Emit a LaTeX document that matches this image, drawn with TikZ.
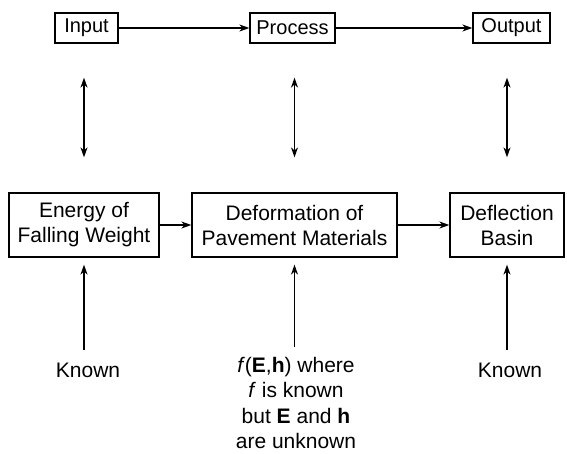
\documentclass[tikz,border=0pt]{standalone}
\usepackage{fontspec}
\setmainfont{Liberation Sans}
\usetikzlibrary{arrows.meta}

\begin{document}
\begin{tikzpicture}[x=1pt, y=-1pt, line width=1.3pt,
  toplabel/.style={draw, font=\fontsize{20}{24}\selectfont, minimum height=30pt, inner xsep=6pt, inner ysep=0pt},
  stagebox/.style={draw, align=center, font=\fontsize{21}{25}\selectfont, minimum height=64pt, inner xsep=2pt},
  note/.style={align=center, font=\fontsize{21}{25.5}\selectfont},
  arr/.style={-{Stealth[length=10pt,width=7pt]}},
  dblarr/.style={{Stealth[length=10pt,width=7pt]}-{Stealth[length=10pt,width=7pt]}}]
  \useasboundingbox (0,0) rectangle (567,453);
  % Top row
  \node[toplabel, minimum width=63pt] (input) at (86.5,28) {Input};
  \node[toplabel, minimum width=85pt] (process) at (292.5,28) {Process};
  \node[toplabel, minimum width=77pt] (output) at (511.5,28) {Output};
  \draw[arr] (input) -- (process);
  \draw[arr] (process) -- (output);
  % Stage boxes
  \node[stagebox, minimum width=150pt] (energy) at (84,225) {Energy of\\Falling Weight};
  \node[stagebox, minimum width=205pt] (deform) at (294.5,225) {Deformation of\\Pavement Materials};
  \node[stagebox, minimum width=114pt] (basin) at (507,225) {Deflection\\Basin};
  \draw[arr] (energy) -- (deform);
  \draw[arr] (deform) -- (basin);
  % Links between rows
  \draw[dblarr, shorten <=34pt, shorten >=35pt] (input.south -| energy.north) -- (energy.north);
  \draw[dblarr, shorten <=34pt, shorten >=35pt] (process.south -| deform.north) -- (deform.north);
  \draw[dblarr, shorten <=34pt, shorten >=35pt] (output.south -| basin.north) -- (basin.north);
  % Notes
  \node[note] (knownL) at (88,370) {Known};
  \node[note] (where) at (296,403) {\textit{f}(\textbf{E},\textbf{h}) where\\\textit{f} is known\\but \textbf{E} and \textbf{h}\\are unknown};
  \node[note] (knownR) at (510,370) {Known};
  \draw[arr, shorten <=9pt, shorten >=7pt] (energy.south |- knownL.north) -- (energy.south);
  \draw[arr, shorten <=6pt, shorten >=7pt] (deform.south |- where.north) -- (deform.south);
  \draw[arr, shorten <=9pt, shorten >=7pt] (basin.south |- knownR.north) -- (basin.south);
\end{tikzpicture}
\end{document}
